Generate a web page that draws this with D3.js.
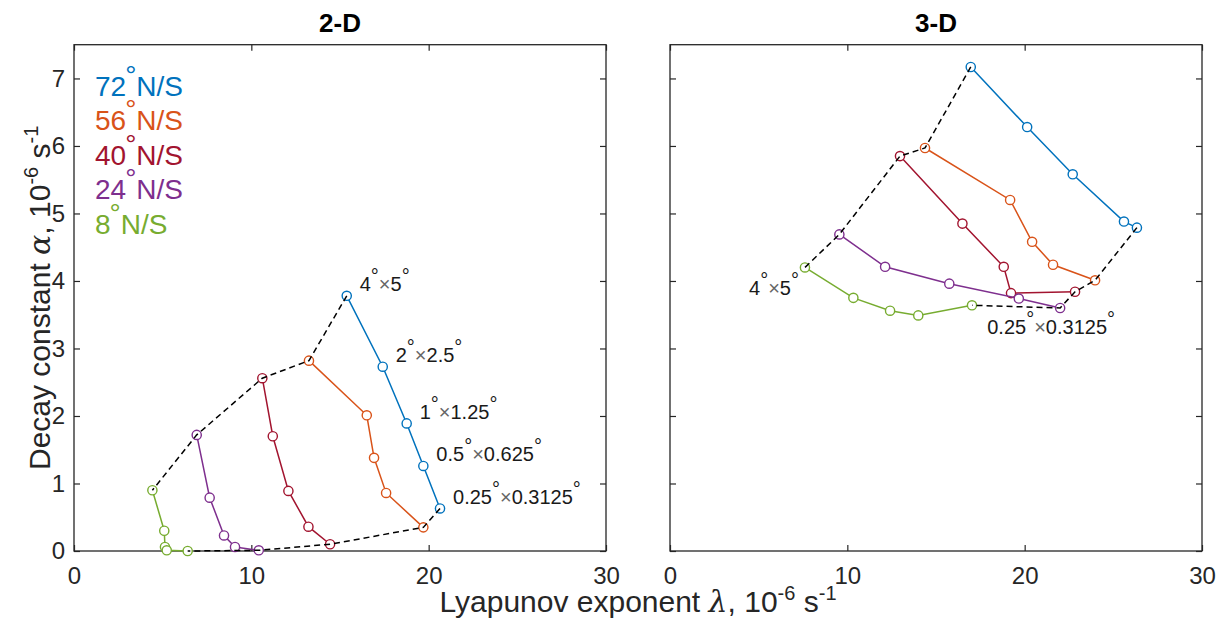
<!DOCTYPE html>
<html>
<head>
<meta charset="utf-8">
<script src="https://cdn.jsdelivr.net/npm/d3@7"></script>
<style>
  body { margin: 0; background: #fff; }
  svg { display: block; font-family: "Liberation Sans", Arial, sans-serif; }
</style>
</head>
<body>
<div id="chart"></div>
<script>
const W = 1218, H = 629;

// latitude of each series, top to bottom in the legend
const latLabels = ["72", "56", "40", "24", "8"];
const colors = ["#0072BD", "#D95319", "#A2142F", "#7E2F8E", "#77AC30"];
const xTicks = [0, 10, 20, 30];
const yTicks = [0, 1, 2, 3, 4, 5, 6, 7];
// grid resolution of each point along a series (lat x lon, degrees)
const gridRes = [["4", "5"], ["2", "2.5"], ["1", "1.25"], ["0.5", "0.625"], ["0.25", "0.3125"]];

// 2-D: Lyapunov exponent and decay constant, one row per latitude
const lambda2D = [
  [15.38, 17.41, 18.76, 19.70, 20.64],
  [13.25, 16.51, 16.92, 17.60, 19.70],
  [10.62, 11.21, 12.09, 13.22, 14.44],
  [6.92, 7.65, 8.46, 9.08, 10.42],
  [4.42, 5.09, 5.13, 5.23, 6.41]
];
const alpha2D = [
  [3.78, 2.73, 1.89, 1.26, 0.63],
  [2.82, 2.01, 1.38, 0.86, 0.35],
  [2.56, 1.70, 0.89, 0.36, 0.10],
  [1.72, 0.79, 0.23, 0.06, 0.01],
  [0.90, 0.30, 0.06, 0.01, 0.00]
];

// 3-D
const lambda3D = [
  [16.96, 20.14, 22.71, 25.60, 26.33],
  [14.38, 19.18, 20.42, 21.60, 23.97],
  [12.97, 16.49, 18.82, 19.23, 22.84],
  [9.55, 12.13, 15.75, 19.67, 22.00],
  [7.61, 10.34, 12.41, 14.00, 17.03]
];
const alpha3D = [
  [7.17, 6.28, 5.58, 4.88, 4.79],
  [5.97, 5.20, 4.58, 4.24, 4.01],
  [5.85, 4.85, 4.21, 3.82, 3.84],
  [4.69, 4.21, 3.96, 3.74, 3.60],
  [4.20, 3.75, 3.56, 3.49, 3.64]
];

const margin = { top: 44.7, bottom: 78, left: 74 };
const panelW = 532, panelGap = 64;
const innerH = H - margin.top - margin.bottom;
const axisColor = "#262626";

const svg = d3.select("#chart").append("svg")
  .attr("width", W)
  .attr("height", H);

// text like 4°×5° : parts are [text, kind], kind "n" normal, "deg" raised circle, "x" times sign
function richText(sel, parts, degRaise) {
  let back = 0;
  parts.forEach(([t, kind]) => {
    if (kind === "deg") {
      sel.append("tspan").attr("dy", back - degRaise).text("°");
      back = degRaise;
    } else if (kind === "x") {
      sel.append("tspan").attr("dy", back).attr("fill", "#666").text("×");
      back = 0;
    } else {
      sel.append("tspan").attr("dy", back).text(t);
      back = 0;
    }
  });
}

function resParts(k) {
  return [[gridRes[k][0], "n"], ["", "deg"], ["", "x"], [gridRes[k][1], "n"], ["", "deg"]];
}

function drawPanel(x0, title, lam, alp, showYLabels) {
  const x = d3.scaleLinear().domain([0, 30]).range([0, panelW]);
  const y = d3.scaleLinear().domain([0, 7.5]).range([innerH, 0]);

  const g = svg.append("g").attr("transform", `translate(${x0},${margin.top})`);

  // axes, ticks pointing inward on all four sides
  const styleAxis = (a) => {
    a.select(".domain").remove();
    a.selectAll("line").attr("stroke", axisColor).attr("stroke-width", 1.2);
    a.selectAll("text").attr("fill", axisColor);
    a.attr("font-size", 24).attr("font-family", null);
  };
  g.append("g").attr("transform", `translate(0,${innerH})`)
    .call(d3.axisBottom(x).tickValues(xTicks).tickSizeInner(-6).tickSizeOuter(0).tickPadding(16))
    .call(styleAxis);
  g.append("g")
    .call(d3.axisTop(x).tickValues(xTicks).tickSizeInner(-6).tickSizeOuter(0).tickFormat(""))
    .call(styleAxis);
  const yAxis = d3.axisLeft(y).tickValues(yTicks).tickSizeInner(-6).tickSizeOuter(0).tickPadding(9);
  if (!showYLabels) yAxis.tickFormat("");
  g.append("g").call(yAxis).call(styleAxis);
  g.append("g").attr("transform", `translate(${panelW},0)`)
    .call(d3.axisRight(y).tickValues(yTicks).tickSizeInner(-6).tickSizeOuter(0).tickFormat(""))
    .call(styleAxis);
  g.selectAll("text").filter(function () { return this.textContent === ""; }).remove();
  g.append("rect")
    .attr("width", panelW).attr("height", innerH)
    .attr("fill", "none").attr("stroke", axisColor).attr("stroke-width", 1.3);

  g.append("text")
    .attr("x", panelW / 2).attr("y", -12.5)
    .attr("text-anchor", "middle")
    .attr("font-size", 26).attr("font-weight", "bold")
    .attr("fill", "#000")
    .text(title);

  const line = d3.line().x((d) => x(d[0])).y((d) => y(d[1]));
  const series = lam.map((row, i) => row.map((v, j) => [v, alp[i][j]]));

  series.forEach((pts, i) => {
    g.append("path").datum(pts)
      .attr("d", line)
      .attr("fill", "none")
      .attr("stroke", colors[i])
      .attr("stroke-width", 1.5);
    g.selectAll(null).data(pts).enter().append("circle")
      .attr("cx", (d) => x(d[0]))
      .attr("cy", (d) => y(d[1]))
      .attr("r", 4.6)
      .attr("fill", "#fff")
      .attr("stroke", colors[i])
      .attr("stroke-width", 1.4);
  });

  // dashed lines joining the coarsest and the finest grids
  const first = series.map((s) => s[0]);
  const last = series.map((s) => s[s.length - 1]);
  [first, last].forEach((pts) => {
    g.append("path").datum(pts)
      .attr("d", line)
      .attr("fill", "none")
      .attr("stroke", "#000")
      .attr("stroke-width", 1.5)
      .attr("stroke-dasharray", "6,4");
  });

  return { g, x, y, series };
}

const p2 = drawPanel(margin.left, "2-D", lambda2D, alpha2D, true);
const p3 = drawPanel(margin.left + panelW + panelGap, "3-D", lambda3D, alpha3D, false);

// resolution labels next to the 72N series in 2-D
p2.series[0].forEach((d, k) => {
  const t = p2.g.append("text")
    .attr("x", p2.x(d[0]) + 13)
    .attr("y", p2.y(d[1]) - 4.5)
    .attr("font-size", 20)
    .attr("fill", "#1a1a1a");
  richText(t, resParts(k), 8);
});

// 3-D: only the coarsest and finest labels
{
  const d = p3.series[4][0];
  const t = p3.g.append("text")
    .attr("x", p3.x(d[0]) - 6)
    .attr("y", p3.y(d[1]) + 28)
    .attr("text-anchor", "end")
    .attr("font-size", 20)
    .attr("fill", "#1a1a1a");
  richText(t, resParts(0), 8);
  const e = p3.series[3][4];
  const u = p3.g.append("text")
    .attr("x", p3.x(e[0]) - 9)
    .attr("y", p3.y(e[1]) + 26)
    .attr("text-anchor", "middle")
    .attr("font-size", 20)
    .attr("fill", "#1a1a1a");
  richText(u, resParts(4), 8);
}

// legend in the 2-D panel
latLabels.forEach((lat, i) => {
  const t = p2.g.append("text")
    .attr("x", 21)
    .attr("y", 51 + i * 34.6)
    .attr("font-size", 28)
    .attr("fill", colors[i]);
  t.append("tspan").text(lat);
  t.append("tspan").attr("dy", -11).attr("dx", -1).text("°");
  t.append("tspan").attr("dy", 11).text("N/S");
});

// axis labels
const xl = svg.append("text")
  .attr("x", margin.left + panelW + panelGap / 2)
  .attr("y", 612)
  .attr("text-anchor", "middle")
  .attr("font-size", 30)
  .attr("fill", axisColor);
xl.append("tspan").text("Lyapunov exponent ");
xl.append("tspan").attr("font-family", "'DejaVu Serif', serif").attr("font-style", "italic").text("λ");
xl.append("tspan").text(", 10");
xl.append("tspan").attr("dy", -12).attr("font-size", 20).text("-6");
xl.append("tspan").attr("dy", 12).text(" s");
xl.append("tspan").attr("dy", -12).attr("font-size", 20).text("-1");

const yl = svg.append("text")
  .attr("transform", `translate(50,${margin.top + innerH / 2}) rotate(-90)`)
  .attr("text-anchor", "middle")
  .attr("font-size", 30)
  .attr("fill", axisColor);
yl.append("tspan").text("Decay constant ");
yl.append("tspan").attr("font-family", "'DejaVu Serif', serif").attr("font-style", "italic").text("α");
yl.append("tspan").text(", 10");
yl.append("tspan").attr("dy", -12).attr("font-size", 20).text("-6");
yl.append("tspan").attr("dy", 12).text(" s");
yl.append("tspan").attr("dy", -12).attr("font-size", 20).text("-1");
</script>
</body>
</html>
